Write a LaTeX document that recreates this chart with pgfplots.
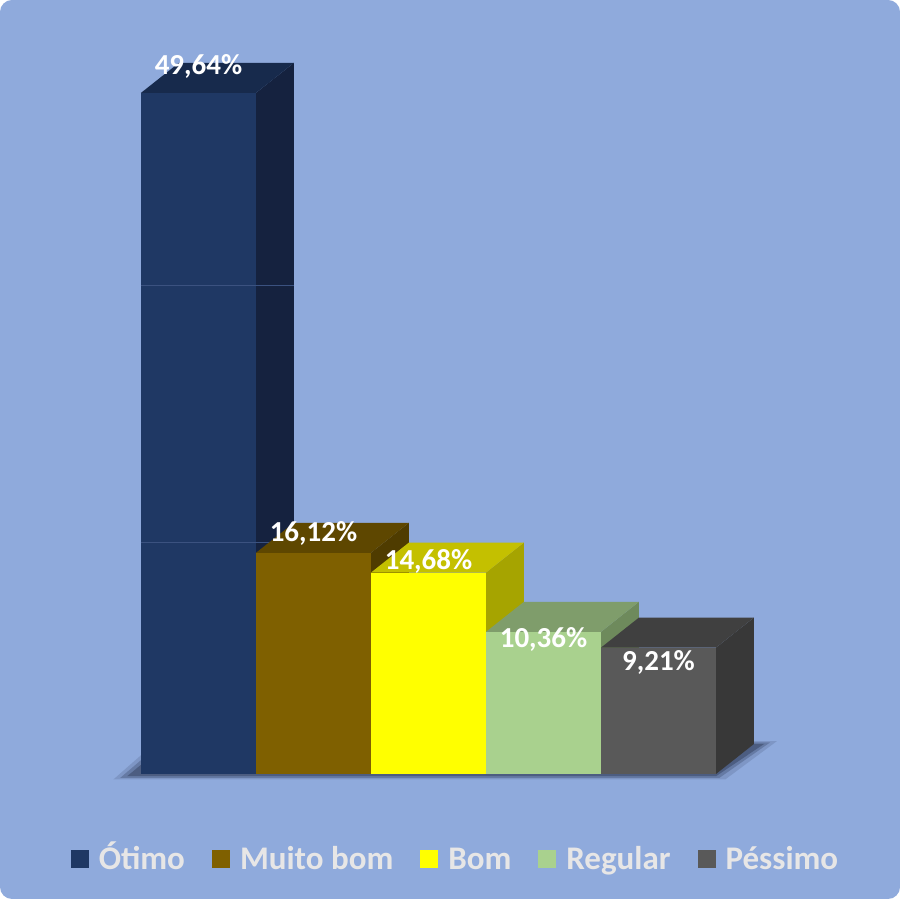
\documentclass[border=0pt]{standalone}
\usepackage{fontspec}
\setmainfont{Carlito}
\usepackage{pgfplots}
\pgfplotsset{compat=1.18}

\definecolor{bgblue}{HTML}{8FAADC}
\definecolor{otimoF}{HTML}{1F3864}
\definecolor{otimoT}{HTML}{172A4C}
\definecolor{otimoS}{HTML}{15223F}
\definecolor{muitoF}{HTML}{7F6000}
\definecolor{muitoT}{HTML}{5E4700}
\definecolor{muitoS}{HTML}{4F3C00}
\definecolor{bomF}{HTML}{FFFF00}
\definecolor{bomT}{HTML}{C4C000}
\definecolor{bomS}{HTML}{A6A400}
\definecolor{regF}{HTML}{A9D18E}
\definecolor{regT}{HTML}{7F9D6B}
\definecolor{regS}{HTML}{6E8A5C}
\definecolor{pesF}{HTML}{595959}
\definecolor{pesT}{HTML}{404040}
\definecolor{pesS}{HTML}{383838}
\definecolor{legtext}{HTML}{E7E6E6}
\definecolor{gridc}{HTML}{3B5280}
\definecolor{shadowc}{HTML}{1E2842}

\begin{document}
\begin{tikzpicture}
\fill[bgblue, rounded corners=6pt] (0,0) rectangle (450pt,449.5pt);
\begin{axis}[
    at={(0,0)}, anchor=south west,
    scale only axis,
    width=450pt, height=449.5pt,
    xmin=-1.726, xmax=6.1,
    ymin=-9.11, ymax=56.41,
    axis lines=none,
    ticks=none,
    clip=false,
    legend columns=5,
    legend style={at={(0.505,0.042)}, anchor=center, draw=none, fill=none,
        text=legtext, font=\fontsize{16.5}{20}\selectfont\bfseries,
        nodes={text height=12pt, text depth=3.5pt, inner sep=0pt},
        /tikz/every even column/.append style={column sep=13.5pt},
        /tikz/every odd column/.append style={column sep=5pt}},
    legend image code/.code={\fill[#1] (0pt,-3.5pt) rectangle (9pt,5.5pt);},
]
% floor shadow (layered to look soft)
\addplot[fill=shadowc, draw=none, opacity=0.15, forget plot]
    coordinates {(-0.74,-0.40) (4.58,-0.40) (5.03,2.40) (-0.36,2.40)} --cycle;
\addplot[fill=shadowc, draw=none, opacity=0.25, forget plot]
    coordinates {(-0.68,-0.28) (4.53,-0.28) (4.97,2.30) (-0.32,2.30)} --cycle;
\addplot[fill=shadowc, draw=none, opacity=0.35, forget plot]
    coordinates {(-0.62,-0.16) (4.50,-0.16) (4.92,2.20) (-0.28,2.20)} --cycle;

% Otimo 49,64
\addplot[fill=otimoS, draw=none, forget plot]
    coordinates {(0.5,0) (0.83,2.19) (0.83,51.83) (0.5,49.64)} --cycle;
\addplot[fill=otimoF, draw=none]
    coordinates {(-0.5,0) (0.5,0) (0.5,49.64) (-0.5,49.64)} --cycle;
\addlegendentry{Ótimo}
\addplot[fill=otimoT, draw=none, forget plot]
    coordinates {(-0.5,49.64) (0.5,49.64) (0.83,51.83) (-0.17,51.83)} --cycle;
\addplot[gridc, line width=0.5pt, forget plot] coordinates {(-0.5,35.57) (0.83,35.57)};
\addplot[gridc, line width=0.5pt, forget plot] coordinates {(-0.5,16.84) (0.83,16.84)};

% Muito bom 16,12
\addplot[fill=muitoS, draw=none, forget plot]
    coordinates {(1.5,0) (1.83,2.19) (1.83,18.31) (1.5,16.12)} --cycle;
\addplot[fill=muitoF, draw=none]
    coordinates {(0.5,0) (1.5,0) (1.5,16.12) (0.5,16.12)} --cycle;
\addlegendentry{Muito bom}
\addplot[fill=muitoT, draw=none, forget plot]
    coordinates {(0.5,16.12) (1.5,16.12) (1.83,18.31) (0.83,18.31)} --cycle;

% Bom 14,68
\addplot[fill=bomS, draw=none, forget plot]
    coordinates {(2.5,0) (2.83,2.19) (2.83,16.87) (2.5,14.68)} --cycle;
\addplot[fill=bomF, draw=none]
    coordinates {(1.5,0) (2.5,0) (2.5,14.68) (1.5,14.68)} --cycle;
\addlegendentry{Bom}
\addplot[fill=bomT, draw=none, forget plot]
    coordinates {(1.5,14.68) (2.5,14.68) (2.83,16.87) (1.83,16.87)} --cycle;

% Regular 10,36
\addplot[fill=regS, draw=none, forget plot]
    coordinates {(3.5,0) (3.83,2.19) (3.83,12.55) (3.5,10.36)} --cycle;
\addplot[fill=regF, draw=none]
    coordinates {(2.5,0) (3.5,0) (3.5,10.36) (2.5,10.36)} --cycle;
\addlegendentry{Regular}
\addplot[fill=regT, draw=none, forget plot]
    coordinates {(2.5,10.36) (3.5,10.36) (3.83,12.55) (2.83,12.55)} --cycle;

% Pessimo 9,21
\addplot[fill=pesS, draw=none, forget plot]
    coordinates {(4.5,0) (4.83,2.19) (4.83,11.40) (4.5,9.21)} --cycle;
\addplot[fill=pesF, draw=none]
    coordinates {(3.5,0) (4.5,0) (4.5,9.21) (3.5,9.21)} --cycle;
\addlegendentry{Péssimo}
\addplot[fill=pesT, draw=none, forget plot]
    coordinates {(3.5,9.21) (4.5,9.21) (4.83,11.40) (3.83,11.40)} --cycle;

% data labels
\begin{scope}[every node/.style={text=white, font=\fontsize{14.5}{17}\selectfont\bfseries}]
\node at (axis cs:0,51.6) {49,64\%};
\node at (axis cs:1,17.5) {16,12\%};
\node at (axis cs:2,15.5) {14,68\%};
\node at (axis cs:3,9.8) {10,36\%};
\node at (axis cs:4,8.1) {9,21\%};
\end{scope}
\end{axis}
\end{tikzpicture}
\end{document}
